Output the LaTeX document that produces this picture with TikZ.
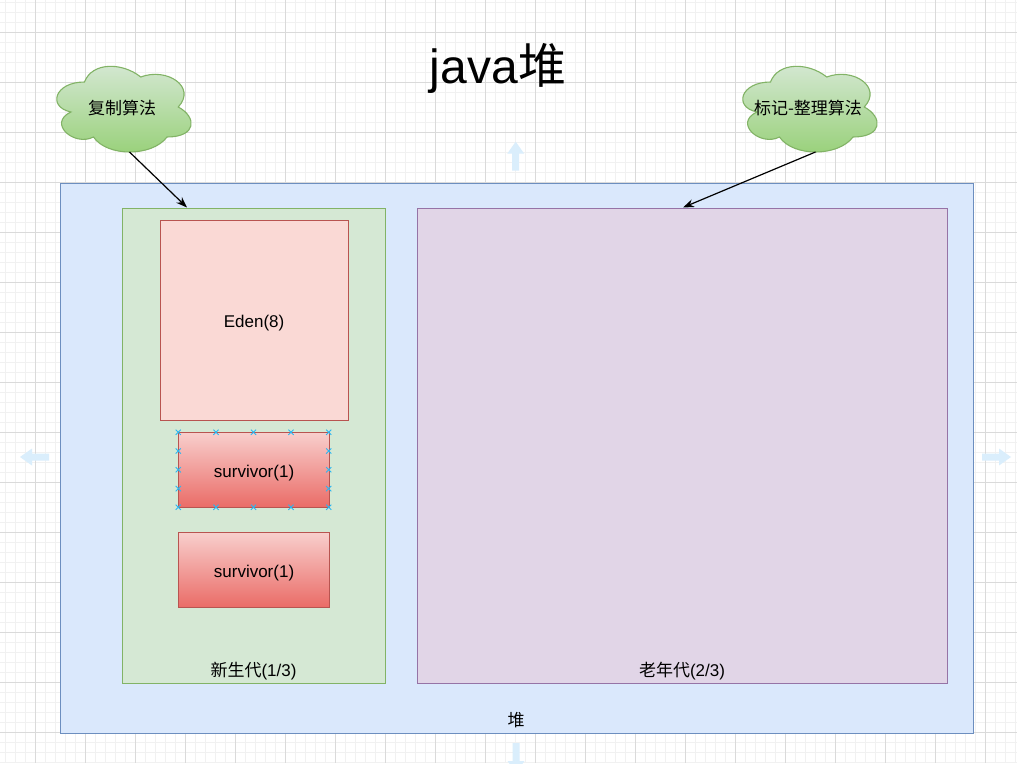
\documentclass[tikz,border=0pt]{standalone}
\usepackage{fontspec}
\setmainfont{Liberation Sans}
\newfontfamily\cjk{Noto Sans CJK SC}
\usetikzlibrary{arrows.meta}
\definecolor{heapfill}{HTML}{DAE8FC}\definecolor{heapline}{HTML}{6C8EBF}
\definecolor{youngfill}{HTML}{D5E8D4}\definecolor{youngline}{HTML}{82B366}
\definecolor{oldfill}{HTML}{E1D5E7}\definecolor{oldline}{HTML}{9673A6}
\definecolor{edenfill}{HTML}{FAD9D5}\definecolor{edenline}{HTML}{B85450}
\definecolor{survtop}{HTML}{F8CECC}\definecolor{survbot}{HTML}{EA6B66}\definecolor{survline}{HTML}{B85450}
\definecolor{cloudtop}{HTML}{D5E8D4}\definecolor{cloudbot}{HTML}{97D077}
\definecolor{gridminor}{RGB}{241,241,241}\definecolor{gridmajor}{RGB}{218,218,218}
\definecolor{hovercol}{RGB}{218,238,252}\definecolor{handlecol}{RGB}{41,182,242}
\tikzset{
  boxnode/.style={draw, line width=1.1pt, inner sep=0pt, anchor=north west, text height=18pt, text depth=3.6pt, font=\fontsize{17}{20}\selectfont},
  txt/.style={inner sep=0pt, font=\fontsize{17}{20}\selectfont},
  conn/.style={line width=1.2pt, -{Stealth[length=11pt,width=8pt]}},
  cloudshape/.style={top color=cloudtop, bottom color=cloudbot, draw=youngline, line width=1.1pt},
  pics/hmark/.style={code={\draw[handlecol,line width=0.9pt] (-2.6pt,-2.6pt)--(2.6pt,2.6pt) (-2.6pt,2.6pt)--(2.6pt,-2.6pt);}}
}
\newcommand\drawcloudat[2]{%
  \begin{scope}[shift={(#1,#2)},x=150pt,y=-100pt]
    \shadedraw[cloudshape] (0.25,0.25) .. controls (0.05,0.25) and (0,0.5) .. (0.16,0.55)
      .. controls (0,0.66) and (0.18,0.9) .. (0.31,0.8)
      .. controls (0.4,1) and (0.7,1) .. (0.8,0.8)
      .. controls (1,0.8) and (1,0.6) .. (0.875,0.5)
      .. controls (1,0.3) and (0.8,0.1) .. (0.625,0.2)
      .. controls (0.5,0.05) and (0.3,0.05) .. (0.25,0.25) -- cycle;
  \end{scope}}
\begin{document}
\begin{tikzpicture}[x=1pt,y=-1pt]
\useasboundingbox (0,0) rectangle (1017,763);
\clip (0,0) rectangle (1017,763);
\fill[white] (0,0) rectangle (1017,763);
% grid
\foreach \x in {5,15,...,1015} \draw[gridminor,line width=1pt] (\x,0) -- (\x,763);
\foreach \y in {2.7,12.7,...,762.7} \draw[gridminor,line width=1pt] (0,\y) -- (1017,\y);
\foreach \x in {35,85,...,985} \draw[gridmajor,line width=1pt] (\x,0) -- (\x,763);
\foreach \y in {32.7,82.7,...,732.7} \draw[gridmajor,line width=1pt] (0,\y) -- (1017,\y);
% hover arrows
\fill[hovercol] (20,457) -- (32,448.5) -- (32,453.5) -- (49,453.5) -- (49,460.5) -- (32,460.5) -- (32,465.5) -- cycle;
\fill[hovercol] (1011,457) -- (999,448.5) -- (999,453.5) -- (982,453.5) -- (982,460.5) -- (999,460.5) -- (999,465.5) -- cycle;
\fill[hovercol] (515.7,141.7) -- (507.2,153.7) -- (512.2,153.7) -- (512.2,170.7) -- (519.2,170.7) -- (519.2,153.7) -- (524.2,153.7) -- cycle;
\fill[hovercol] (516,773) -- (507.5,761) -- (512.5,761) -- (512.5,743) -- (519.5,743) -- (519.5,761) -- (524.5,761) -- cycle;
% title
\node[inner sep=0pt,font=\fontsize{48}{56}\selectfont] (title) at (498,68) {java{\cjk 堆}};
% heap and regions
\node[boxnode, fill=heapfill, draw=heapline, minimum width=913pt, minimum height=550pt] (heap) at (59.5,182.5) {};
\node[boxnode, fill=youngfill, draw=youngline, minimum width=263pt, minimum height=475pt] (young) at (122,207.5) {};
\node[boxnode, fill=oldfill, draw=oldline, minimum width=530pt, minimum height=475pt] (old) at (417,207.5) {};
\node[boxnode, fill=edenfill, draw=edenline, minimum width=188pt, minimum height=199.5pt] (eden) at (159.5,220) {Eden(8)};
\node[boxnode, top color=survtop, bottom color=survbot, draw=survline, minimum width=150.4pt, minimum height=75pt] (surv1) at (178.3,432.3) {survivor(1)};
\node[boxnode, top color=survtop, bottom color=survbot, draw=survline, minimum width=150.4pt, minimum height=75pt] (surv2) at (178.3,532.3) {survivor(1)};
% labels
\node[txt] (younglbl) at (253.5,671) {{\cjk 新生代}(1/3)};
\node[txt] (oldlbl) at (682,671) {{\cjk 老年代}(2/3)};
\node[txt] (heaplbl) at (516,720) {\cjk 堆};
% selection handles
\foreach \x in {178.3,216,253.5,291,328.7} {\pic at (\x,432.3) {hmark}; \pic at (\x,507.3) {hmark};}
\foreach \y in {451,469.8,488.6} {\pic at (178.3,\y) {hmark}; \pic at (328.7,\y) {hmark};}
% clouds
\drawcloudat{47}{57}
\drawcloudat{733}{57}
\node[txt] (cloud1) at (122,108) {\cjk 复制算法};
\node[txt] (cloud2) at (808,108) {\cjk 标记-整理算法};
% connectors
\coordinate (c1b) at (129.5,152);
\coordinate (yt) at (187,207.5);
\coordinate (c2b) at (815.5,152);
\coordinate (ot) at (683,207.5);
\draw[conn] (c1b) -- (yt);
\draw[conn] (c2b) -- (ot);
\end{tikzpicture}
\end{document}
